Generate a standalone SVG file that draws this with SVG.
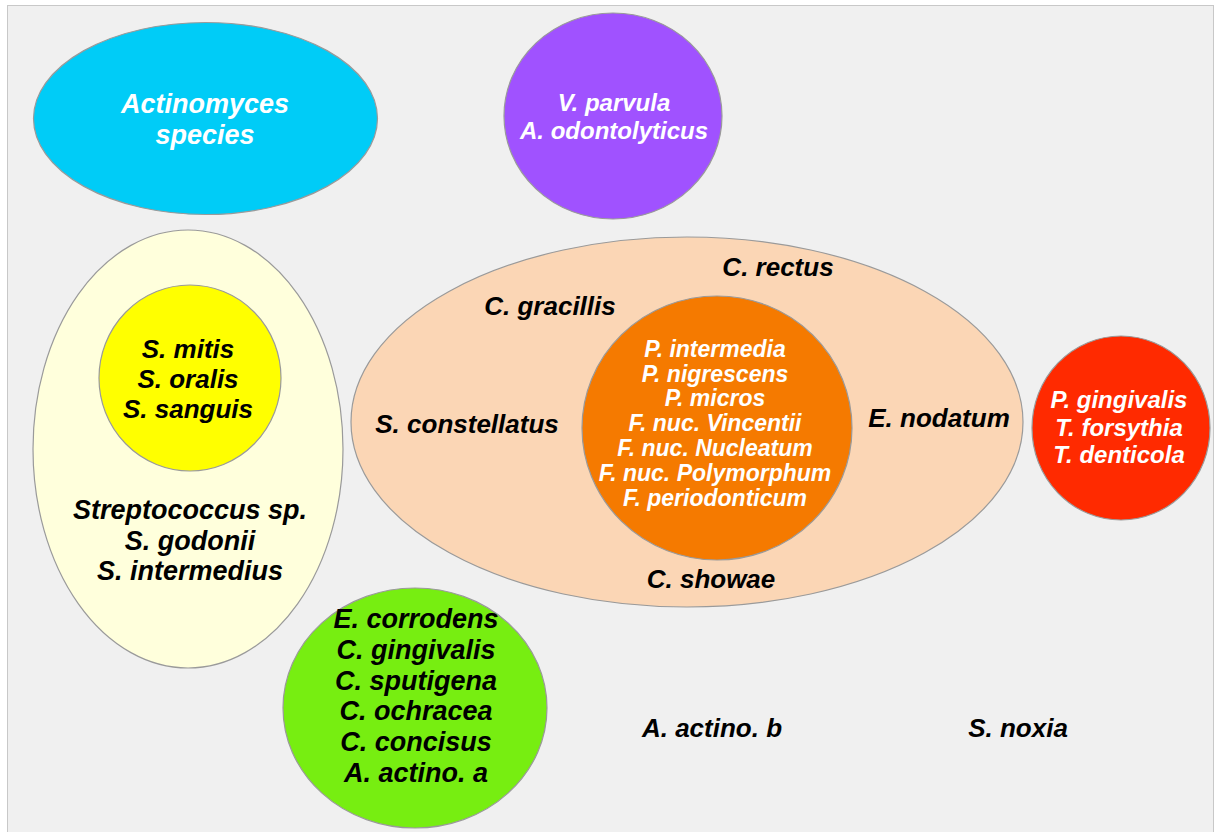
<svg xmlns="http://www.w3.org/2000/svg" width="1216" height="832" viewBox="0 0 1216 832">
<style>
.t{font-family:"Liberation Sans",Arial,sans-serif;font-weight:bold;font-style:italic;text-anchor:middle}
.w{fill:#ffffff}
.k{fill:#000000}
.s{stroke:#9a9a9a;stroke-width:1.2}
</style>
<rect x="0" y="0" width="1216" height="832" fill="#ffffff"/>
<rect x="7.5" y="5.5" width="1206" height="830" fill="#f0f0f0" stroke="#c8c8c8" stroke-width="1"/>
<g id="actinomyces">
<ellipse class="s" cx="205.5" cy="118.5" rx="172" ry="96" fill="#00ccf7"/>
<text class="t w" font-size="27" x="205" y="113">Actinomyces</text>
<text class="t w" font-size="27" x="205" y="144">species</text>
</g>
<g id="purple">
<ellipse class="s" cx="613" cy="116" rx="109" ry="103" fill="#a052ff"/>
<text class="t w" font-size="24" x="614" y="111">V. parvula</text>
<text class="t w" font-size="24" x="614" y="139">A. odontolyticus</text>
</g>
<g id="yellow-complex">
<ellipse class="s" cx="188" cy="449" rx="155" ry="219" fill="#ffffdc"/>
<text class="t k" font-size="27" x="190" y="519">Streptococcus sp.</text>
<text class="t k" font-size="27" x="190" y="550">S. godonii</text>
<text class="t k" font-size="27" x="190" y="580">S. intermedius</text>
</g>
<g id="yellow">
<ellipse class="s" cx="190" cy="378" rx="91" ry="93" fill="#ffff00"/>
<text class="t k" font-size="26" x="188" y="358">S. mitis</text>
<text class="t k" font-size="26" x="188" y="388">S. oralis</text>
<text class="t k" font-size="26" x="188" y="418">S. sanguis</text>
</g>
<g id="orange-complex">
<ellipse class="s" cx="687" cy="422" rx="336" ry="185" fill="#fbd6b5"/>
<text class="t k" font-size="26" x="778" y="276">C. rectus</text>
<text class="t k" font-size="26" x="550" y="315">C. gracillis</text>
<text class="t k" font-size="26" x="467" y="433">S. constellatus</text>
<text class="t k" font-size="26" x="939" y="427">E. nodatum</text>
<text class="t k" font-size="26" x="711" y="588">C. showae</text>
</g>
<g id="orange">
<ellipse class="s" cx="717" cy="428" rx="135" ry="132" fill="#f57a00"/>
<text class="t w" font-size="23" x="715" y="357">P. intermedia</text>
<text class="t w" font-size="23" x="715" y="382">P. nigrescens</text>
<text class="t w" font-size="23" x="715" y="406">P. micros</text>
<text class="t w" font-size="23" x="715" y="431">F. nuc. Vincentii</text>
<text class="t w" font-size="23" x="715" y="456">F. nuc. Nucleatum</text>
<text class="t w" font-size="23" x="715" y="481">F. nuc. Polymorphum</text>
<text class="t w" font-size="23" x="715" y="506">F. periodonticum</text>
</g>
<g id="red">
<ellipse class="s" cx="1121" cy="428" rx="89" ry="92" fill="#ff2a00"/>
<text class="t w" font-size="24" x="1119" y="408">P. gingivalis</text>
<text class="t w" font-size="24" x="1119" y="436">T. forsythia</text>
<text class="t w" font-size="24" x="1119" y="463">T. denticola</text>
</g>
<g id="green">
<ellipse class="s" cx="415" cy="708" rx="132" ry="120" fill="#77ee11"/>
<text class="t k" font-size="27" x="416" y="628">E. corrodens</text>
<text class="t k" font-size="27" x="416" y="659">C. gingivalis</text>
<text class="t k" font-size="27" x="416" y="690">C. sputigena</text>
<text class="t k" font-size="27" x="416" y="720">C. ochracea</text>
<text class="t k" font-size="27" x="416" y="751">C. concisus</text>
<text class="t k" font-size="27" x="416" y="782">A. actino. a</text>
</g>
<g id="a-actino-b">
<text class="t k" font-size="26" x="712" y="737">A. actino. b</text>
</g>
<g id="s-noxia">
<text class="t k" font-size="26" x="1018" y="737">S. noxia</text>
</g>
<g id="connectors"></g>
</svg>
